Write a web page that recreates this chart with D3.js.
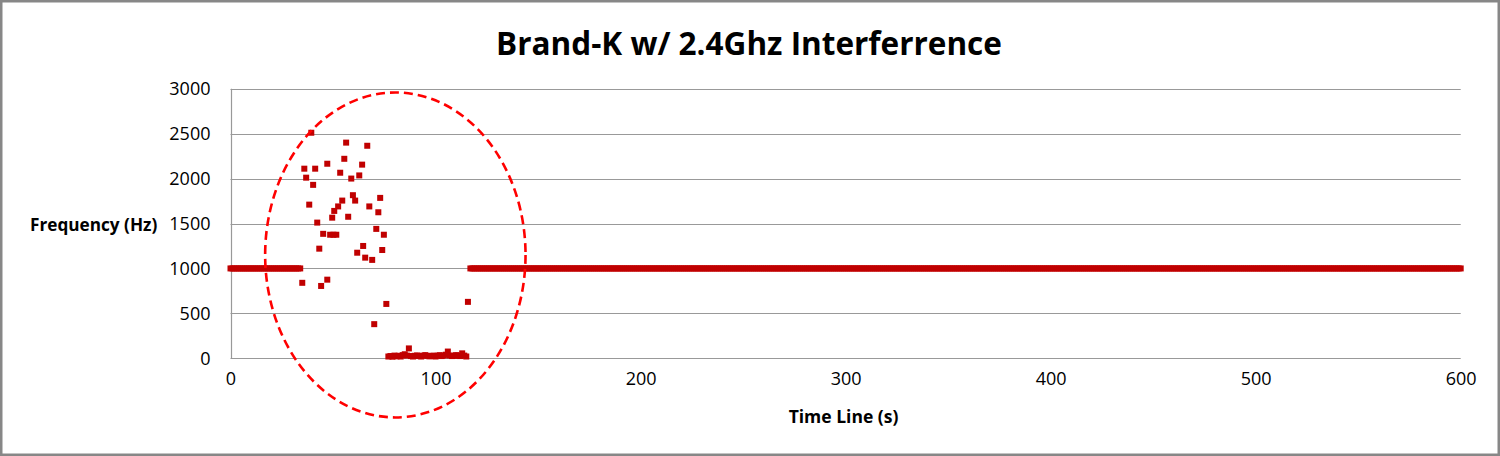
<!DOCTYPE html>
<html>
<head>
<meta charset="utf-8">
<script src="https://d3js.org/d3.v7.min.js"></script>
<style>
  body { margin: 0; background: #fff; }
  text { font-family: "Open Sans", sans-serif; fill: #000; }
</style>
</head>
<body>
<div id="chart"></div>
<script>
// chart values
var titleText = "Brand-K w/ 2.4Ghz Interferrence";
var xLabel = "Time Line (s)";
var yLabel = "Frequency (Hz)";
var xTicks = [0, 100, 200, 300, 400, 500, 600];
var yTicks = [0, 500, 1000, 1500, 2000, 2500, 3000];

// steady 1000 Hz signal, one sample per second, before and after the interference
var steadyFreq = 1000;
var steadySpans = [[0, 34], [117, 600]];

// scattered readings during the interference
var scatterTime = [35, 36, 36.9, 38.4, 39.4, 40.3, 41.3, 42.3, 43.3, 44.2, 45.2, 47.2, 47.2,
                   48.6, 49.6, 50.2, 50.6, 51.6, 52.5, 53.5, 54.5, 55.5, 56.4, 57.4, 58.9, 59.7,
                   60.8, 61.8, 62.8, 64.2, 64.7, 65.7, 66.7, 67.7, 69.1, 70.1, 71.1, 72.1, 73,
                   74, 74.8, 76, 115.8];
var scatterFreq = [840, 2110, 2010, 1710, 2510, 1930, 2110, 1510, 1220, 805, 1385, 2165, 875,
                   1375, 1565, 1375, 1640, 1375, 1690, 2065, 1755, 2220, 2400, 1575, 2000, 1815,
                   1755, 1175, 2035, 2155, 1250, 1120, 2365, 1690, 1095, 380, 1440, 1625, 1785,
                   1205, 1375, 605, 628];

// near-zero readings
var lowTime = [77, 78, 79, 80, 81, 82, 83, 84, 85, 86, 87, 88, 89, 90, 91, 92, 93, 94, 95, 96,
               97, 98, 99, 100, 101, 102, 103, 104, 105, 106, 107, 108, 109, 110, 111, 112, 113, 114, 115];
var lowFreq = [20, 25, 18, 30, 22, 28, 20, 35, 45, 30, 110, 25, 20, 28, 32, 25, 20, 30, 35, 28,
               22, 25, 30, 20, 28, 35, 25, 30, 40, 75, 30, 25, 28, 35, 30, 25, 55, 30, 20];

var W = 1500, H = 456;
var margin = {top: 88.7, right: 39.3, bottom: 97.7, left: 230.5};

var svg = d3.select("#chart")
  .append("svg")
    .attr("width", W)
    .attr("height", H);

// outer frame
svg.append("rect")
  .attr("x", 1.25).attr("y", 1.25)
  .attr("width", W - 2.5).attr("height", H - 2.5)
  .attr("fill", "#fff")
  .attr("stroke", "#878787")
  .attr("stroke-width", 2.5);

var x = d3.scaleLinear()
  .domain([0, 600])
  .range([margin.left, W - margin.right]);

var y = d3.scaleLinear()
  .domain([0, 3000])
  .range([H - margin.bottom, margin.top]);

// gridlines
svg.append("g")
  .selectAll("line")
  .data(yTicks)
  .enter()
  .append("line")
    .attr("x1", x(0))
    .attr("x2", x(600))
    .attr("y1", function(d) { return Math.round(y(d)) + 0.5; })
    .attr("y2", function(d) { return Math.round(y(d)) + 0.5; })
    .attr("stroke", "#999")
    .attr("stroke-width", 1.2);

// left axis line
svg.append("line")
  .attr("x1", Math.round(x(0)) + 0.5).attr("x2", Math.round(x(0)) + 0.5)
  .attr("y1", y(3000)).attr("y2", y(0))
  .attr("stroke", "#999")
  .attr("stroke-width", 1.2);

// Y axis labels
var yAxis = svg.append("g")
  .attr("transform", "translate(" + (x(0) - 20) + ",0)")
  .call(d3.axisLeft(y).tickValues(yTicks).tickSize(0).tickPadding(0).tickFormat(d3.format("d")));
yAxis.select(".domain").remove();
yAxis.selectAll("text")
  .style("font-family", "'Open Sans', sans-serif")
  .style("font-size", "18px")
  .attr("fill", "#000");

// X axis labels
var xAxis = svg.append("g")
  .attr("transform", "translate(0," + (y(0) + 14) + ")")
  .call(d3.axisBottom(x).tickValues(xTicks).tickSize(0).tickPadding(0).tickFormat(d3.format("d")));
xAxis.select(".domain").remove();
xAxis.selectAll("text")
  .style("font-family", "'Open Sans', sans-serif")
  .style("font-size", "18px")
  .attr("fill", "#000");

// title + axis titles
svg.append("text")
  .attr("x", 749).attr("y", 55)
  .attr("text-anchor", "middle")
  .style("font-size", "31.5px")
  .style("font-weight", "bold")
  .text(titleText);

svg.append("text")
  .attr("x", 30).attr("y", 231)
  .style("font-size", "17.2px")
  .style("font-weight", "bold")
  .text(yLabel);

svg.append("text")
  .attr("x", 843.5).attr("y", 423)
  .attr("text-anchor", "middle")
  .style("font-size", "17.5px")
  .style("font-weight", "bold")
  .text(xLabel);

// build the point list
var points = [];
steadySpans.forEach(function(s) {
  d3.range(s[0], s[1] + 1).forEach(function(t) { points.push({t: t, f: steadyFreq}); });
});
scatterTime.forEach(function(t, i) { points.push({t: t, f: scatterFreq[i]}); });
lowTime.forEach(function(t, i) { points.push({t: t, f: lowFreq[i]}); });

var size = 6;
svg.append("g")
  .selectAll("rect")
  .data(points)
  .enter()
  .append("rect")
    .attr("x", function(d) { return x(d.t) - size / 2; })
    .attr("y", function(d) { return y(d.f) - size / 2; })
    .attr("width", size)
    .attr("height", size)
    .attr("fill", "#c00000");

// dashed ellipse highlighting the interference
var ring = {t: 80.4, f: 1150, rt: 63.5, rf: 1808};
svg.append("ellipse")
  .attr("cx", x(ring.t))
  .attr("cy", y(ring.f))
  .attr("rx", x(ring.rt) - x(0))
  .attr("ry", y(0) - y(ring.rf))
  .attr("fill", "none")
  .attr("stroke", "#ff0000")
  .attr("stroke-width", 2.6)
  .attr("stroke-dasharray", "9,5");
</script>
</body>
</html>
